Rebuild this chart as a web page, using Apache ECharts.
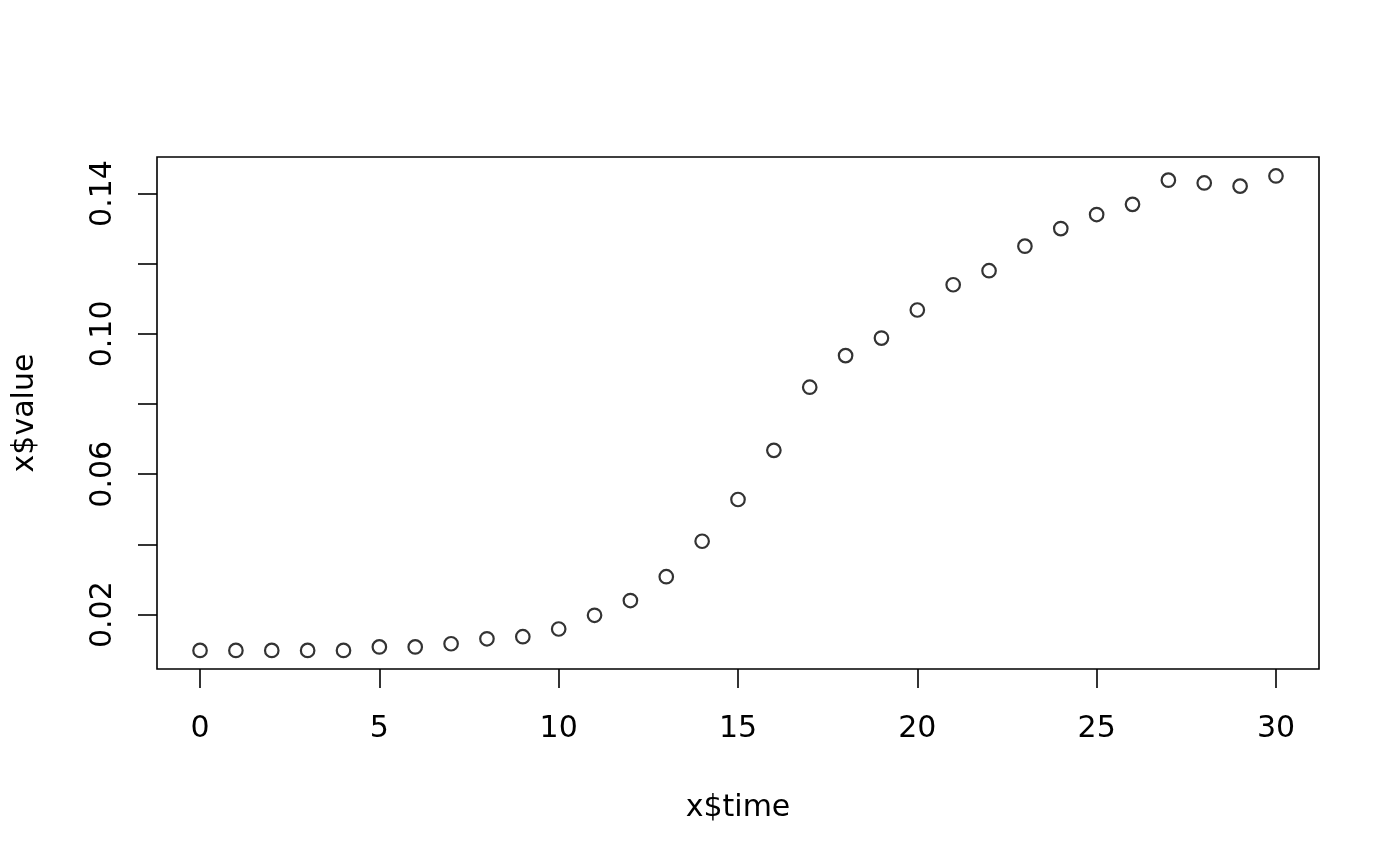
<!DOCTYPE html>
<html>
<head>
<meta charset="utf-8">
<script src="https://cdn.jsdelivr.net/npm/echarts@6/dist/echarts.min.js"></script>
<style>
html,body{margin:0;padding:0;background:#fff;}
#chart{width:1400px;height:866px;}
</style>
</head>
<body>
<div id="chart"></div>
<script>
const timeValues = [0,1,2,3,4,5,6,7,8,9,10,11,12,13,14,15,16,17,18,19,20,21,22,23,24,25,26,27,28,29,30];
const valueValues = [0.0098,0.0098,0.0098,0.0098,0.0098,0.0108,0.0108,0.0117,0.0131,0.0137,0.0159,0.0198,0.0240,0.0308,0.0409,0.0528,0.0668,0.0848,0.0938,0.0988,0.1068,0.1140,0.1180,0.1250,0.1300,0.1340,0.1369,0.1438,0.1430,0.1421,0.1450];
const xTicks = [0,5,10,15,20,25,30];
const yTicks = [0.02,0.04,0.06,0.08,0.10,0.12,0.14];
const yLabels = [0.02,0.06,0.10,0.14];

const font = '"DejaVu Sans", sans-serif';
const chart = echarts.init(document.getElementById('chart'), null, {renderer:'canvas'});
chart.setOption({
  animation:false,
  backgroundColor:'#fff',
  grid:{left:157, top:157, right:81, bottom:197, show:true, borderColor:'#000', borderWidth:1.6, backgroundColor:'transparent'},
  xAxis:{
    type:'value', min:-1.2, max:31.2,
    name:'x$time', nameLocation:'middle', nameGap:124,
    nameTextStyle:{fontFamily:font, fontSize:30, color:'#000'},
    axisLine:{show:false, onZero:false},
    splitLine:{show:false},
    axisTick:{show:true, inside:false, length:19, customValues:xTicks, lineStyle:{color:'#000', width:1.6}},
    axisLabel:{show:true, customValues:xTicks, margin:45, fontFamily:font, fontSize:30, color:'#000',
      formatter:v=>String(v)}
  },
  yAxis:{
    type:'value', min:0.0045, max:0.1504,
    name:'x$value', nameLocation:'middle', nameGap:117, nameRotate:90,
    nameTextStyle:{fontFamily:font, fontSize:30, color:'#000'},
    axisLine:{show:false, onZero:false},
    splitLine:{show:false},
    axisTick:{show:true, inside:false, length:19, customValues:yTicks, lineStyle:{color:'#000', width:1.6}},
    axisLabel:{show:true, customValues:yLabels, rotate:90, margin:39, fontFamily:font, fontSize:30, color:'#000',
      formatter:v=>v.toFixed(2)}
  },
  series:[{
    type:'scatter',
    data:timeValues.map((t,i)=>[t, valueValues[i]]),
    symbol:'circle',
    symbolSize:13.5,
    itemStyle:{color:'rgba(0,0,0,0)', borderColor:'#000', borderWidth:2.2}
  }]
});
</script>
</body>
</html>
